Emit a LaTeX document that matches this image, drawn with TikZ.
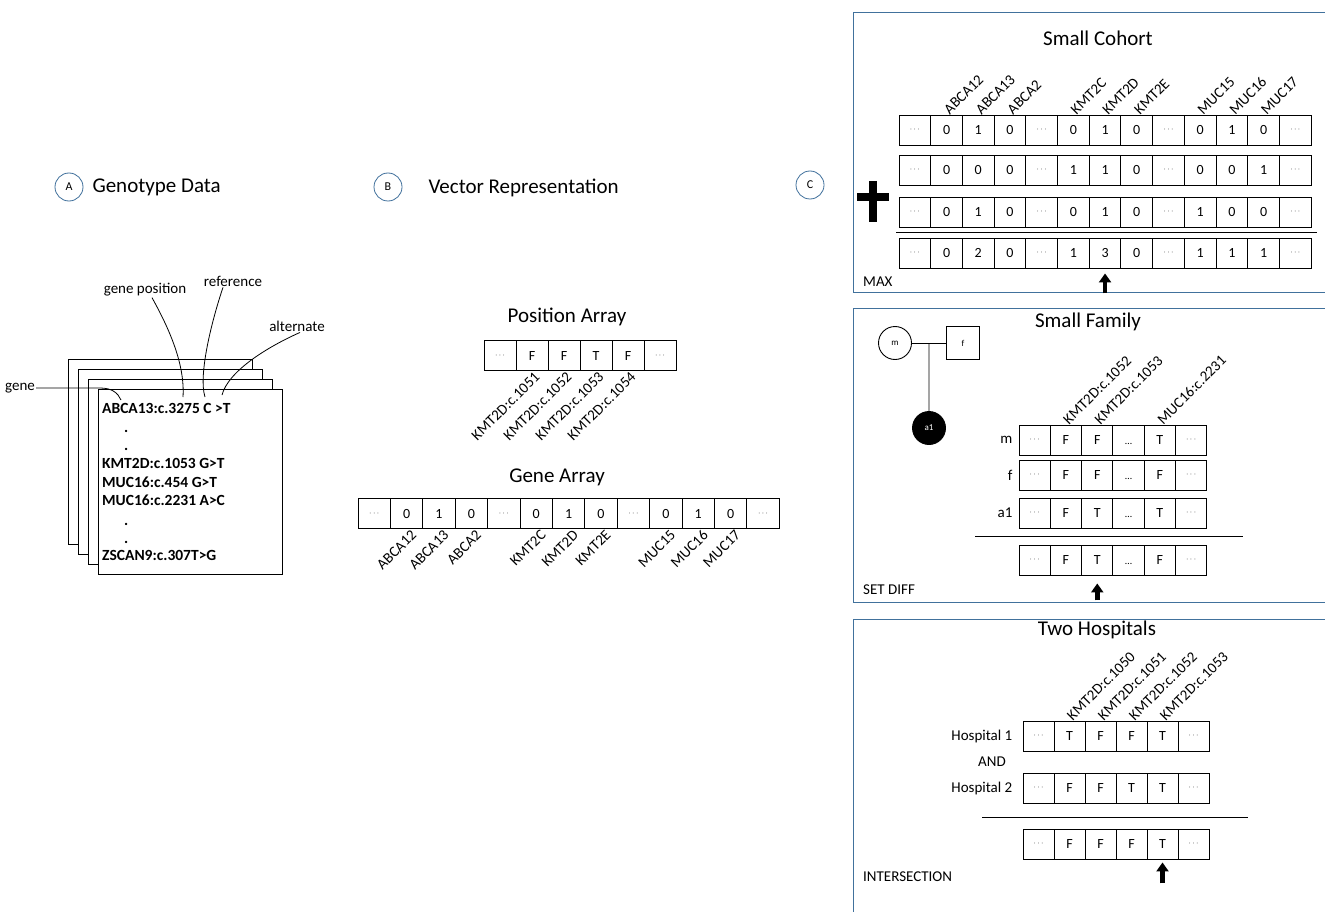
\documentclass[tikz,border=0pt]{standalone}
\usepackage{fontspec}
\setmainfont{Carlito}
\usetikzlibrary{positioning,arrows.meta,calc}

\definecolor{framec}{RGB}{65,113,156}
\newcommand{\dd}{\raisebox{3pt}{\fontsize{8}{8}\selectfont$\cdots$}}
\newcommand{\ld}{{\fontsize{10}{10}\selectfont\ldots}}

\tikzset{
  cell/.style={draw,minimum height=30pt,inner sep=0pt,text height=9.5pt,text depth=0pt,
    line width=0.9pt,font=\fontsize{14}{16}\selectfont},
  title/.style={font=\fontsize{21}{24}\selectfont},
  lbl/.style={font=\fontsize{15}{18}\selectfont,inner sep=1pt},
  upl/.style={lbl,rotate=45,anchor=west},
  dnl/.style={lbl,rotate=45,anchor=east},
  panel/.style={draw=framec,line width=0.9pt},
  letter/.style={circle,draw=framec,line width=0.8pt,minimum size=28pt,inner sep=0pt,font=\fontsize{12}{12}\selectfont},
  page/.style={draw,fill=white,line width=0.9pt,minimum width=184pt,minimum height=185pt,inner sep=0pt},
  geno/.style={font=\bfseries\fontsize{15.5}{18}\selectfont,anchor=base west,inner sep=0pt},
  call/.style={line width=0.8pt},
  pick/.style={line width=4.5pt,-{Triangle[width=12pt,length=9pt]}},
  ped/.style={draw,line width=0.9pt,minimum size=33pt,inner sep=0pt,font=\fontsize{9}{9}\selectfont},
}

% one row of boxes: name, left x, centre y, box width, values
\newcommand{\cellrow}[5]{%
  \foreach \v [count=\i from 0] in {#5}
    \node[cell,minimum width=#4pt] (#1-\i) at ({#2+(\i+0.5)*#4},#3) {\v};
}

\begin{document}
\begin{tikzpicture}[x=1pt,y=-1pt]
  \useasboundingbox (0,0) rectangle (1325,912);
  \clip (0,0) rectangle (1325,912);
  \fill[white] (0,0) rectangle (1325,912);

  % A: genotype data
  \node[letter] (la) at (69,187) {A};
  \node[title,anchor=west] (ta) at (89,187) {Genotype Data};
  \foreach \k in {0,...,3}
    \node[page] (p\k) at ({160+10*\k},{451.5+10*\k}) {};
  \node[geno] (v1) at (102,413) {ABCA13:c.3275 C >T};
  \node[geno] (d1) at (124,432) {.};
  \node[geno] (d2) at (124,450) {.};
  \node[geno] (v2) at (102,468) {KMT2D:c.1053 G>T};
  \node[geno] (v3) at (102,487) {MUC16:c.454 G>T};
  \node[geno] (v4) at (102,505) {MUC16:c.2231 A>C};
  \node[geno] (d3) at (124,525) {.};
  \node[geno] (d4) at (124,543) {.};
  \node[geno] (v5) at (102,560) {ZSCAN9:c.307T>G};

  \node[lbl] (lgene) at (20,388) {gene};
  \node[lbl] (lpos) at (145,290) {gene position};
  \node[lbl] (lref) at (233,281) {reference};
  \node[lbl] (lalt) at (297,326) {alternate};
  \coordinate (cgene) at (121,400);
  \coordinate (cpos) at (183,397);
  \coordinate (cref) at (205,397);
  \coordinate (calt) at (222,395);
  \draw[call] (lgene.east) -- (100,388) .. controls (112,388) and (118,393) .. (cgene);
  \draw[call] ([xshift=7pt]lpos.south) .. controls (170,330) and (185,365) .. (cpos);
  \draw[call] ([xshift=-10pt]lref.south) .. controls (212,320) and (198,375) .. (cref);
  \draw[call] ([xshift=3pt]lalt.south) .. controls (265,348) and (228,372) .. (calt);

  % B: vectors
  \node[letter] (lb) at (388,187) {B};
  \node[title,anchor=west] (tb) at (425,188) {Vector Representation};
  \node[title] (tpos) at (567,317) {Position Array};
  \cellrow{pa}{484}{355.5}{32}{\dd,F,F,T,F,\dd}
  \foreach \t [count=\i] in {1051,1052,1053,1054}
    \node[dnl] (pl-\i) at ([xshift=6pt,yshift=-3pt]pa-\i.south) {KMT2D:c.\t};
  \node[title] (tgene) at (557,477) {Gene Array};
  \cellrow{ga}{358}{513.5}{32.4}{\dd,0,1,0,\dd,0,1,0,\dd,0,1,0,\dd}
  \foreach \g/\i in {ABCA12/1,ABCA13/2,ABCA2/3,KMT2C/5,KMT2D/6,KMT2E/7,MUC15/9,MUC16/10,MUC17/11}
    \node[dnl] (gl-\i) at ([xshift=8pt,yshift=-3pt]ga-\i.south) {\g};

  % C: queries
  \node[letter] (lc) at (810,185) {C};
  \draw[panel] (853,12) rectangle (1340,292);
  \draw[panel] (853,308) rectangle (1340,602);
  \draw[panel] (853,619) rectangle (1340,930);

  % small cohort
  \node[title] (tcoh) at (1098,38) {Small Cohort};
  \cellrow{c1}{899}{130}{31.7}{\dd,0,1,0,\dd,0,1,0,\dd,0,1,0,\dd}
  \cellrow{c2}{899}{170}{31.7}{\dd,0,0,0,\dd,1,1,0,\dd,0,0,1,\dd}
  \cellrow{c3}{899}{212}{31.7}{\dd,0,1,0,\dd,0,1,0,\dd,1,0,0,\dd}
  \cellrow{c4}{899}{253}{31.7}{\dd,0,2,0,\dd,1,3,0,\dd,1,1,1,\dd}
  \foreach \g/\i in {ABCA12/1,ABCA13/2,ABCA2/3,KMT2C/5,KMT2D/6,KMT2E/7,MUC15/9,MUC16/10,MUC17/11}
    \node[upl] (cl-\i) at ([xshift=-1pt,yshift=2pt]c1-\i.north) {\g};
  \draw[line width=8pt] (857,197) -- (889,197) (873,181) -- (873,222);
  \draw[line width=0.9pt] (896,232) -- (1317,232);
  \draw[pick] ([yshift=-25pt]c4-6.south) -- ([yshift=-5pt]c4-6.south);
  \node[lbl,anchor=west] (tmax) at (862,282) {MAX};

  % small family
  \node[title] (tfam) at (1088,322) {Small Family};
  \node[ped,circle] (pm) at (895,343) {m};
  \node[ped] (pf) at (963,343) {f};
  \node[ped,circle,fill=black,text=white] (pa1) at (929,428) {a1};
  \coordinate (pmid) at ($(pm.east)!0.5!(pf.west)$);
  \draw[line width=0.9pt] (pm) -- (pf);
  \draw[line width=0.9pt] (pmid) -- (pa1);
  \cellrow{fm}{1019}{440}{31.3}{\dd,F,F,\ld,T,\dd}
  \cellrow{ff}{1019}{475}{31.3}{\dd,F,F,\ld,F,\dd}
  \cellrow{fa}{1019}{513}{31.3}{\dd,F,T,\ld,T,\dd}
  \cellrow{fr}{1019}{560}{31.3}{\dd,F,T,\ld,F,\dd}
  \node[lbl,anchor=east] (nm) at ([xshift=-5pt]fm-0.west) {m};
  \node[lbl,anchor=east] (nf) at ([xshift=-5pt]ff-0.west) {f};
  \node[lbl,anchor=east] (na) at ([xshift=-5pt]fa-0.west) {a1};
  \foreach \g/\i in {KMT2D:c.1052/1,KMT2D:c.1053/2,MUC16:c.2231/4}
    \node[upl] (fl-\i) at ([xshift=-1pt,yshift=2pt]fm-\i.north) {\g};
  \draw[line width=0.9pt] (975,536) -- (1243,536);
  \draw[pick] ([yshift=-25pt]fr-2.south) -- ([yshift=-8pt]fr-2.south);
  \node[lbl,anchor=west] (tdiff) at (862,590) {SET DIFF};

  % two hospitals
  \node[title] (thos) at (1097,630) {Two Hospitals};
  \cellrow{h1}{1023}{736}{31}{\dd,T,F,F,T,\dd}
  \cellrow{h2}{1023}{788}{31}{\dd,F,F,T,T,\dd}
  \cellrow{hr}{1023}{844}{31}{\dd,F,F,F,T,\dd}
  \node[lbl,anchor=east] (nh1) at ([xshift=-9pt]h1-0.west) {Hospital 1};
  \node[lbl] (nand) at (992,762) {AND};
  \node[lbl,anchor=east] (nh2) at ([xshift=-9pt]h2-0.west) {Hospital 2};
  \foreach \t [count=\i] in {1050,1051,1052,1053}
    \node[upl] (hl-\i) at ([xshift=-1pt,yshift=2pt]h1-\i.north) {KMT2D:c.\t};
  \draw[line width=0.9pt] (982,817) -- (1248,817);
  \draw[pick] ([yshift=-24pt]hr-4.south) -- ([yshift=-3pt]hr-4.south);
  \node[lbl,anchor=west] (tint) at (862,877) {INTERSECTION};
\end{tikzpicture}
\end{document}
